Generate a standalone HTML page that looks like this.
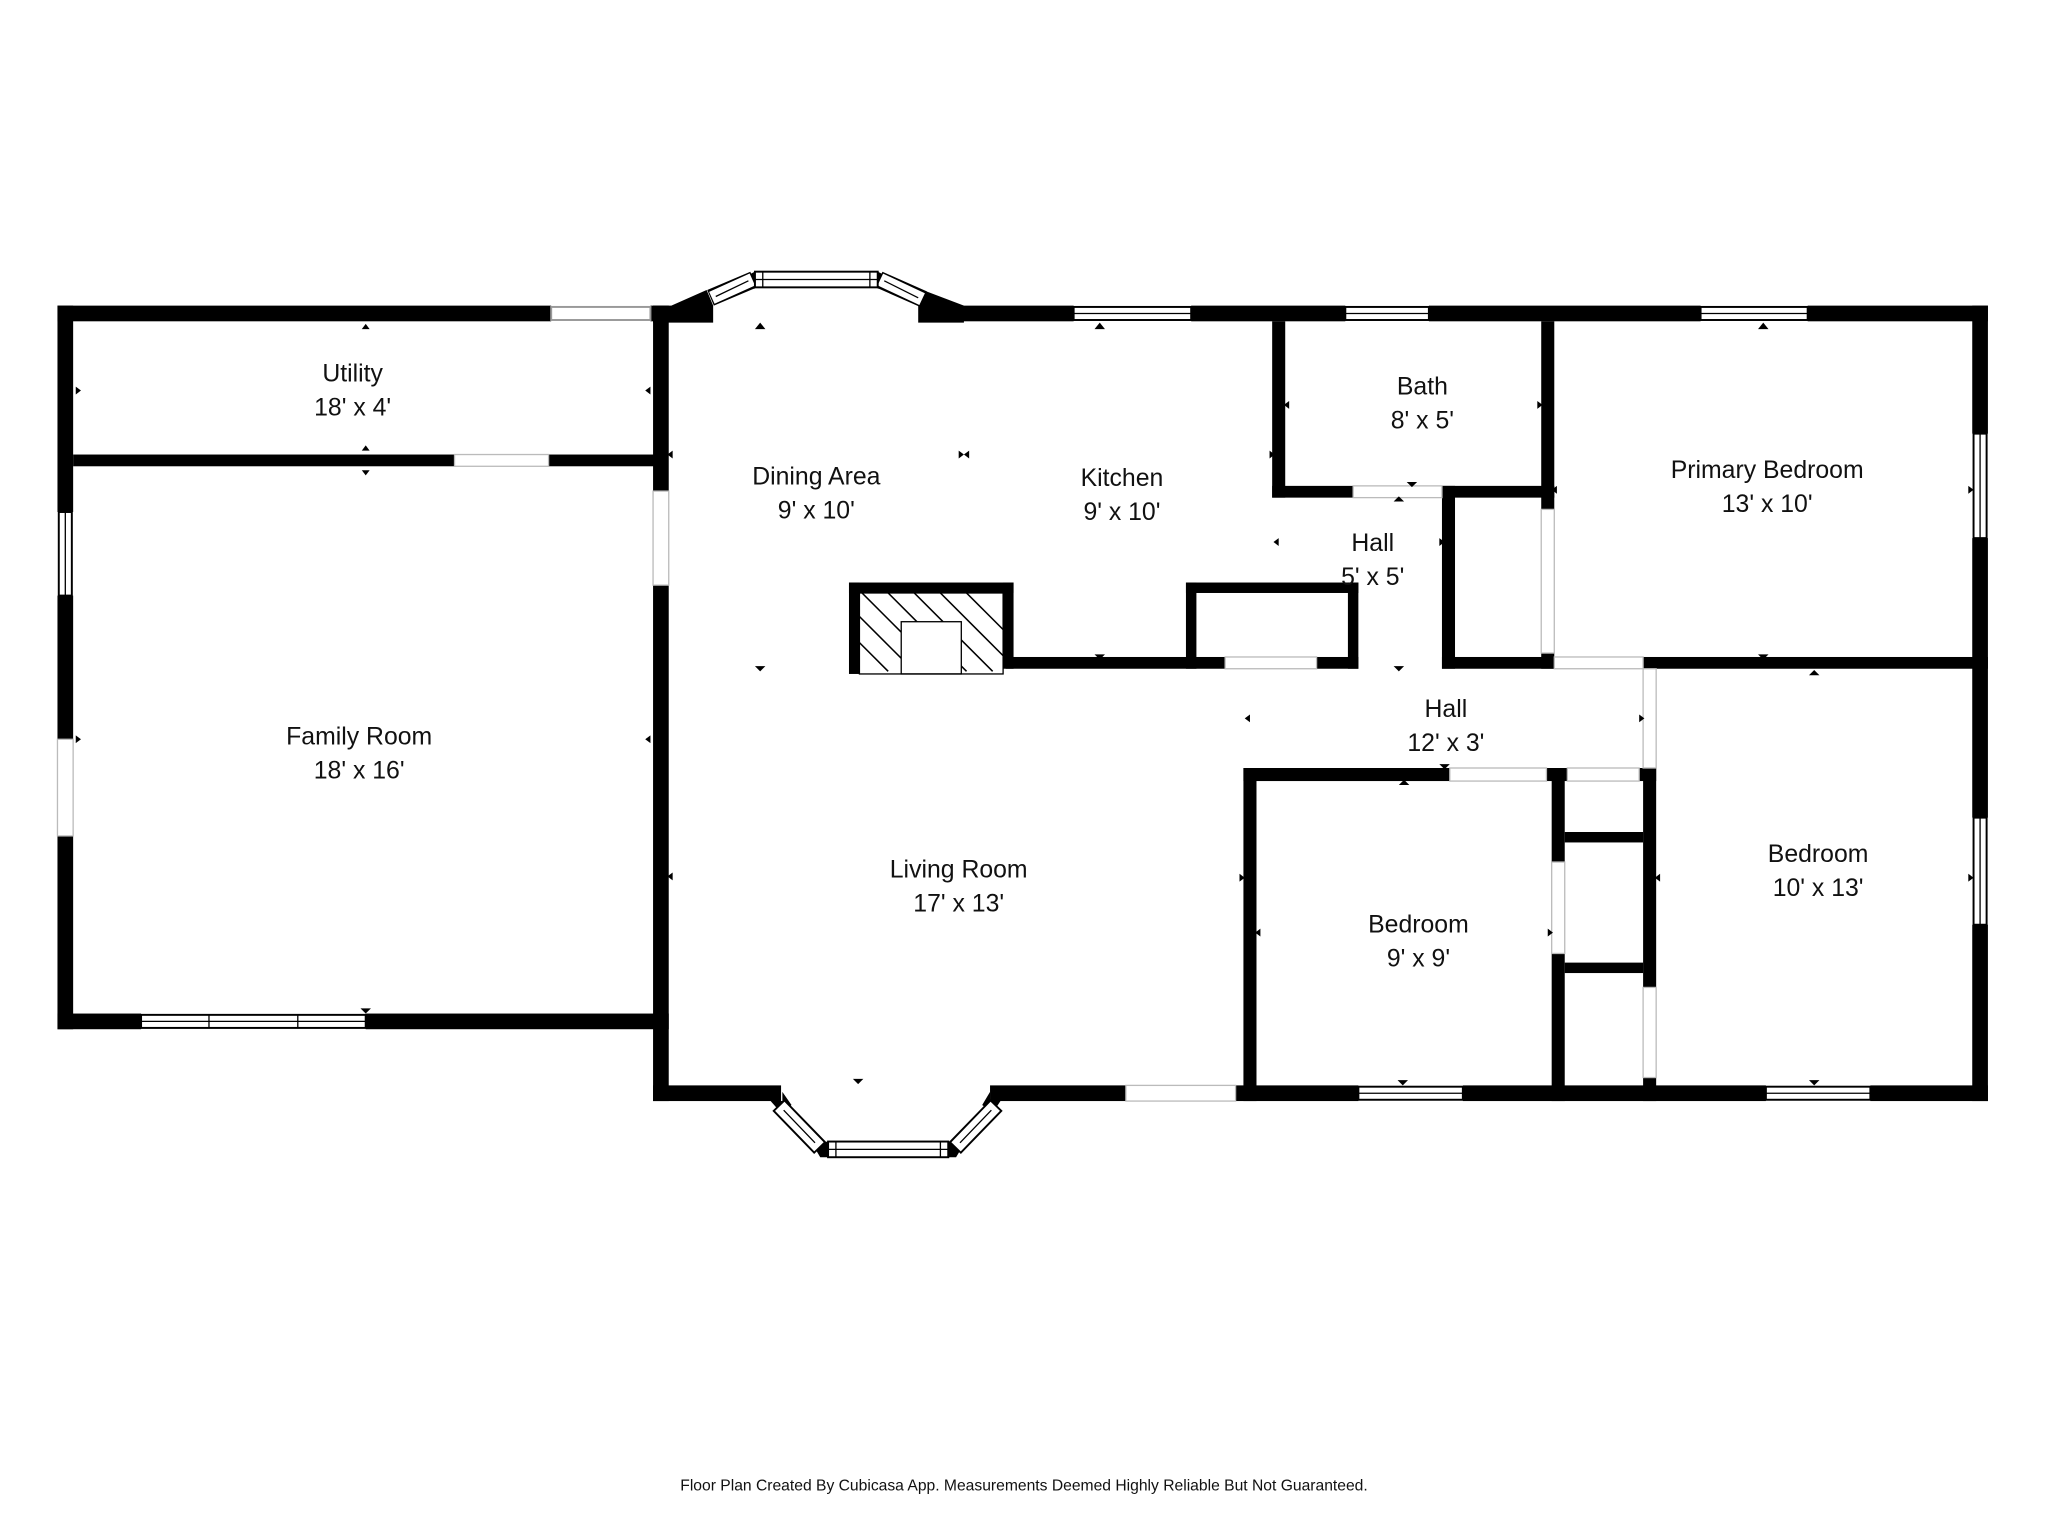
<!DOCTYPE html>
<html><head><meta charset="utf-8"><style>
html,body{margin:0;padding:0;background:#fff;}
svg{display:block;}
text{font-family:"Liberation Sans",sans-serif;fill:#111;}
</style></head><body>
<svg width="2048" height="1536" viewBox="0 0 1568 1176" xmlns="http://www.w3.org/2000/svg">
<rect width="1568" height="1176" fill="#fff"/>
<g fill="#000">
<rect x="44" y="234" width="378" height="12"/>
<rect x="498" y="234" width="14" height="12"/>
<rect x="44" y="234" width="12" height="158"/>
<rect x="44" y="456" width="12" height="110"/>
<rect x="44" y="640" width="12" height="148"/>
<rect x="44" y="776" width="64" height="12"/>
<rect x="280" y="776" width="232" height="12"/>
<rect x="56" y="348" width="292" height="9"/>
<rect x="420" y="348" width="82" height="9"/>
<rect x="500" y="234" width="12" height="142"/>
<rect x="500" y="448" width="12" height="395"/>
<rect x="500" y="831" width="98" height="12"/>
<rect x="758" y="831" width="104" height="12"/>
<rect x="946" y="831" width="94" height="12"/>
<rect x="1120" y="831" width="232" height="12"/>
<rect x="1432" y="831" width="90" height="12"/>
<polygon points="500,234 514,234 541,222 546,234 546,247 500,247"/>
<polygon points="703,234 709,223 738,234 738,247 703,247"/>
<rect x="712" y="234" width="110" height="12"/>
<rect x="912" y="234" width="118" height="12"/>
<rect x="1094" y="234" width="208" height="12"/>
<rect x="1384" y="234" width="138" height="12"/>
<rect x="1510" y="234" width="12" height="98"/>
<rect x="1510" y="412" width="12" height="214"/>
<rect x="1510" y="708" width="12" height="135"/>
<rect x="974" y="246" width="10" height="135"/>
<rect x="974" y="372" width="62" height="9"/>
<rect x="1104" y="372" width="86" height="9"/>
<rect x="1180" y="246" width="10" height="144"/>
<rect x="1180" y="500" width="10" height="12"/>
<rect x="1104" y="372" width="10" height="140"/>
<rect x="1104" y="503" width="86" height="9"/>
<rect x="1258" y="503" width="264" height="9"/>
<rect x="770" y="503" width="168" height="9"/>
<rect x="1008" y="503" width="32" height="9"/>
<rect x="908" y="446" width="132" height="8"/>
<rect x="908" y="446" width="8" height="66"/>
<rect x="1032" y="446" width="8" height="66"/>
<rect x="650" y="446" width="126" height="8"/>
<rect x="650" y="446" width="8" height="70"/>
<rect x="768" y="446" width="8" height="66"/>
<rect x="952" y="588" width="158" height="10"/>
<rect x="952" y="588" width="10" height="255"/>
<rect x="1184" y="588" width="16" height="10"/>
<rect x="1188" y="588" width="10" height="72"/>
<rect x="1188" y="730" width="10" height="113"/>
<rect x="1255" y="588" width="13" height="10"/>
<rect x="1198" y="637" width="60" height="8"/>
<rect x="1198" y="737" width="60" height="8"/>
<rect x="1258" y="588" width="10" height="168"/>
<rect x="1258" y="825" width="10" height="18"/>
<polygon points="590,843 599,843 599,836 606,846 598,852"/>
<polygon points="766,843 758,843 758,836 752,846 760,852"/>
<polygon points="622,876 634,874 634,886 628,886"/>
<polygon points="738,876 726,874 726,886 732,886"/>
<polygon points="572,211 578,208 578,221 566,221"/>
<polygon points="678,211 672,208 672,221 684,221"/>
</g>
<!-- diagonal bay windows -->
<g stroke-linecap="butt">
<g stroke="#000" stroke-width="13"><line x1="544" y1="228" x2="577" y2="214"/><line x1="673" y1="214" x2="707" y2="229"/><line x1="596" y1="846" x2="628" y2="879"/><line x1="731" y1="879" x2="763" y2="846"/></g>
<g stroke="#fff" stroke-width="10"><line x1="545" y1="228" x2="576" y2="214"/><line x1="674" y1="214" x2="706" y2="229"/><line x1="597" y1="847" x2="627" y2="878"/><line x1="732" y1="878" x2="762" y2="847"/></g>
<g stroke="#000" stroke-width="1"><line x1="548" y1="227" x2="573" y2="215"/><line x1="677" y1="215" x2="703" y2="228"/><line x1="600" y1="850" x2="624" y2="875"/><line x1="735" y1="875" x2="759" y2="850"/></g>
</g>
<g fill="#fff" stroke="#000" stroke-width="1.5">
<rect x="578" y="208" width="94" height="12"/>
<rect x="634" y="874" width="92" height="12"/>
<rect x="422" y="235" width="76" height="10" stroke="#999"/>
<rect x="822" y="235" width="90" height="10"/>
<rect x="1030" y="235" width="64" height="10"/>
<rect x="1302" y="235" width="82" height="10"/>
<rect x="45" y="392" width="10" height="64"/>
<rect x="1511" y="332" width="10" height="80"/>
<rect x="1511" y="626" width="10" height="82"/>
<rect x="108" y="777" width="172" height="10"/>
<rect x="1040" y="832" width="80" height="10"/>
<rect x="1352" y="832" width="80" height="10"/>
</g>
<g stroke="#000" stroke-width="1">
<line x1="108" y1="782" x2="280" y2="782"/><line x1="160" y1="777" x2="160" y2="787"/><line x1="228" y1="777" x2="228" y2="787"/>
<line x1="578" y1="214" x2="672" y2="214"/><line x1="584" y1="208" x2="584" y2="220"/><line x1="666" y1="208" x2="666" y2="220"/>
<line x1="634" y1="880" x2="726" y2="880"/><line x1="640" y1="874" x2="640" y2="886"/><line x1="720" y1="874" x2="720" y2="886"/>
<line x1="822" y1="240" x2="912" y2="240"/><line x1="1030" y1="240" x2="1094" y2="240"/><line x1="1302" y1="240" x2="1384" y2="240"/>
<line x1="50" y1="392" x2="50" y2="456"/><line x1="1516" y1="332" x2="1516" y2="412"/><line x1="1516" y1="626" x2="1516" y2="708"/>
<line x1="1040" y1="837" x2="1120" y2="837"/><line x1="1352" y1="837" x2="1432" y2="837"/>
</g>
<g stroke="#bbb" stroke-width="1" fill="none">
<rect x="348" y="348" width="72" height="9"/>
<rect x="1036" y="372" width="68" height="9"/>
<rect x="938" y="503" width="70" height="9"/>
<rect x="1190" y="503" width="68" height="9"/>
<rect x="1110" y="588" width="74" height="10"/>
<rect x="1200" y="588" width="55" height="10"/>
<rect x="862" y="831" width="84" height="12"/>
<rect x="500" y="376" width="12" height="72"/>
<rect x="1180" y="390" width="10" height="110"/>
<rect x="1188" y="660" width="10" height="70"/>
<rect x="1258" y="756" width="10" height="69"/>
<rect x="1258" y="512" width="10" height="76"/>
<rect x="44" y="566" width="12" height="74"/>
</g>
<clipPath id="fp"><rect x="658" y="454" width="110" height="62"/></clipPath>
<g clip-path="url(#fp)" stroke="#000" stroke-width="1.2">
<line x1="640" y1="454" x2="700" y2="514"/><line x1="660" y1="454" x2="720" y2="514"/><line x1="680" y1="454" x2="740" y2="514"/><line x1="700" y1="454" x2="760" y2="514"/><line x1="720" y1="454" x2="780" y2="514"/><line x1="740" y1="454" x2="800" y2="514"/><line x1="620" y1="454" x2="680" y2="514"/>
</g>
<rect x="690" y="476" width="46" height="40" fill="#fff" stroke="#000" stroke-width="1"/>
<rect x="658" y="454" width="110" height="62" fill="none" stroke="#000" stroke-width="1"/>
<!-- markers -->
<g fill="#000">
<polygon points="277,252 283,252 280,248"/>
<polygon points="277,345 283,345 280,341"/><polygon points="277,360 283,360 280,364"/>
<polygon points="578,252 586,252 582,247"/><polygon points="838,252 846,252 842,247"/><polygon points="1346,252 1354,252 1350,247"/>
<polygon points="578,510 586,510 582,514"/><polygon points="838,501 846,501 842,505"/><polygon points="1067,510 1075,510 1071,514"/>
<polygon points="1346,501 1354,501 1350,505"/><polygon points="1385,517 1393,517 1389,513"/>
<polygon points="1077,369 1085,369 1081,373"/><polygon points="1067,384 1075,384 1071,380"/>
<polygon points="653,826 661,826 657,830"/><polygon points="276,772 284,772 280,776"/>
<polygon points="1071,601 1079,601 1075,597"/><polygon points="1102,585 1110,585 1106,589"/>
<polygon points="1070,827 1078,827 1074,831"/><polygon points="1385,827 1393,827 1389,831"/>
<polygon points="58,296 58,302 62,299"/><polygon points="498,296 498,302 494,299"/>
<polygon points="58,563 58,569 62,566"/><polygon points="498,563 498,569 494,566"/>
<polygon points="515,345 515,351 511,348"/><polygon points="515,668 515,674 511,671"/>
<polygon points="734,345 734,351 738,348"/><polygon points="742,345 742,351 738,348"/>
<polygon points="972,345 972,351 976,348"/><polygon points="979,412 979,418 975,415"/>
<polygon points="987,307 987,313 983,310"/><polygon points="1177,307 1177,313 1181,310"/>
<polygon points="1192,372 1192,378 1188,375"/><polygon points="1507,372 1507,378 1511,375"/>
<polygon points="1102,412 1102,418 1106,415"/><polygon points="957,547 957,553 953,550"/>
<polygon points="1255,547 1255,553 1259,550"/><polygon points="949,669 949,675 953,672"/>
<polygon points="965,711 965,717 961,714"/><polygon points="1185,711 1185,717 1189,714"/>
<polygon points="1271,669 1271,675 1267,672"/><polygon points="1507,669 1507,675 1511,672"/>
</g>
<g font-size="19" text-anchor="middle">
<text x="270" y="292">Utility</text><text x="270" y="318">18' x 4'</text>
<text x="275" y="570">Family Room</text><text x="275" y="596">18' x 16'</text>
<text x="625" y="371">Dining Area</text><text x="625" y="397">9' x 10'</text>
<text x="859" y="372">Kitchen</text><text x="859" y="398">9' x 10'</text>
<text x="1089" y="302">Bath</text><text x="1089" y="328">8' x 5'</text>
<text x="1353" y="366">Primary Bedroom</text><text x="1353" y="392">13' x 10'</text>
<text x="1051" y="422">Hall</text><text x="1051" y="448">5' x 5'</text>
<text x="1107" y="549">Hall</text><text x="1107" y="575">12' x 3'</text>
<text x="734" y="672">Living Room</text><text x="734" y="698">17' x 13'</text>
<text x="1086" y="714">Bedroom</text><text x="1086" y="740">9' x 9'</text>
<text x="1392" y="660">Bedroom</text><text x="1392" y="686">10' x 13'</text>
</g>
<text x="784" y="1141" font-size="12" text-anchor="middle">Floor Plan Created By Cubicasa App. Measurements Deemed Highly Reliable But Not Guaranteed.</text>
</svg>
</body></html>
